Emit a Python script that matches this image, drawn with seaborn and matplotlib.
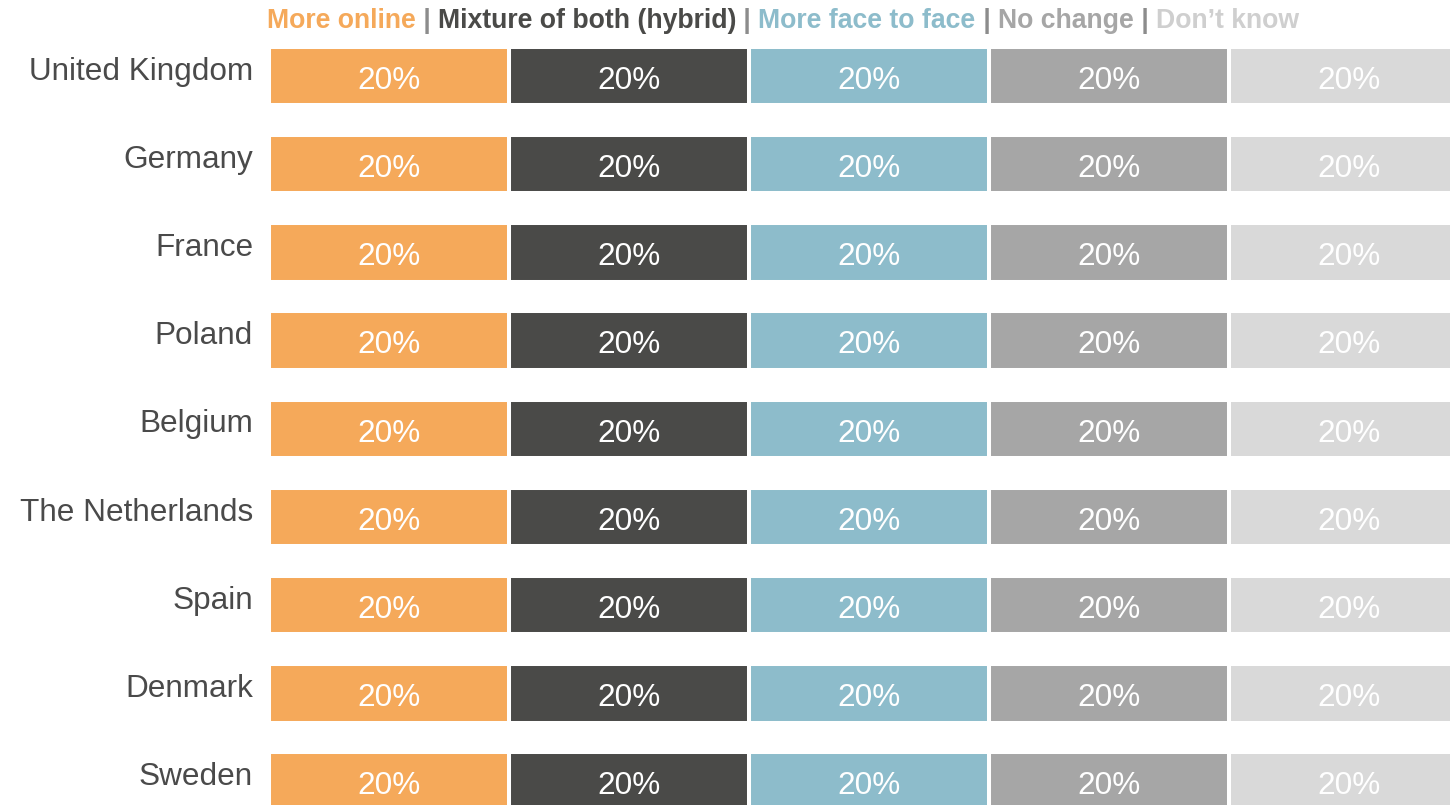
import matplotlib
matplotlib.use("Agg")
import matplotlib.pyplot as plt
import matplotlib.transforms as mtransforms
import seaborn as sns
import pandas as pd
import numpy as np

countries = ["United Kingdom", "Germany", "France", "Poland", "Belgium",
             "The Netherlands", "Spain", "Denmark", "Sweden"]
categories = ["More online", "Mixture of both (hybrid)", "More face to face",
              "No change", "Don\u2019t know"]
more_online = [20, 20, 20, 20, 20, 20, 20, 20, 20]
hybrid = [20, 20, 20, 20, 20, 20, 20, 20, 20]
face_to_face = [20, 20, 20, 20, 20, 20, 20, 20, 20]
no_change = [20, 20, 20, 20, 20, 20, 20, 20, 20]
dont_know = [20, 20, 20, 20, 20, 20, 20, 20, 20]
series = [more_online, hybrid, face_to_face, no_change, dont_know]
colors = ["#F5A95A", "#4A4A48", "#8DBCCB", "#A6A6A6", "#D9D9D9"]
legend_colors = ["#F5A95A", "#4A4A48", "#8DBCCB", "#A6A6A6", "#CFCFCF"]

sns.set_theme(style="white")
plt.rcParams['font.family'] = ['Liberation Sans', 'DejaVu Sans']

W, H = 1450, 805
fig = plt.figure(figsize=(W / 100, H / 100), dpi=100)
ax = fig.add_axes([269 / W, 0, 1 - 269 / W, 1])

vals = np.array(series, dtype=float)
cum = np.cumsum(vals, axis=0)
for i in range(len(categories) - 1, -1, -1):
    df = pd.DataFrame({"country": countries, "value": cum[i]})
    sns.barplot(data=df, x="value", y="country", orient="h", color=colors[i],
                width=0.66, edgecolor="white", linewidth=2.9, saturation=1,
                ax=ax, order=countries)

for i in range(len(categories)):
    starts = cum[i] - vals[i]
    for j in range(len(countries)):
        ax.text(starts[j] + vals[i][j] / 2, j + 0.055, f"{vals[i][j]:.0f}%",
                ha="center", va="center", color="white", fontsize=22.7)

ax.set_xlim(0, 98.4)
ax.set_ylim(8 + (805 - 781.6) / 88.2, -76 / 88.2)
ax.set_yticks([])
ax.set_xticks([])
ax.set_xlabel("")
ax.set_ylabel("")
for s in ax.spines.values():
    s.set_visible(False)

trans = mtransforms.blended_transform_factory(fig.transFigure, ax.transData)
for j, c in enumerate(countries):
    ax.text(253 / W, j - 0.05, c, transform=trans, ha="right", va="center",
            fontsize=22.7, color="#4A4A4A")

# Coloured legend line at top
fig.canvas.draw()
renderer = fig.canvas.get_renderer()
pieces = []
for i, cat in enumerate(categories):
    pieces.append((cat, legend_colors[i]))
    if i < len(categories) - 1:
        pieces.append((" | ", "#8C8C8C"))
texts = []
for txt, col in pieces:
    t = fig.text(0, 1 - 21 / H, txt, ha="left", va="center", fontsize=19.15,
                 fontweight="bold", color=col)
    ext = t.get_window_extent(renderer)
    texts.append((t, ext.width))
xpos = 267
for t, w in texts:
    t.set_x(xpos / W)
    xpos += w

fig.savefig("out.png", dpi=100)
